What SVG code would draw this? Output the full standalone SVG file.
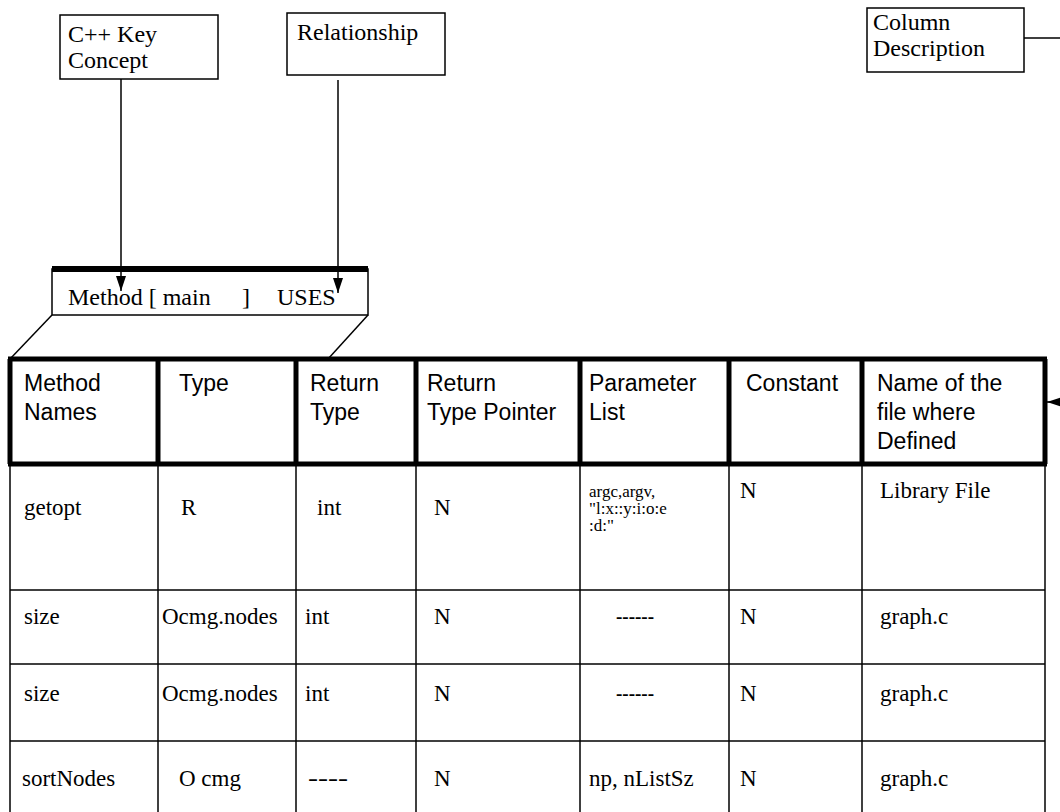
<svg xmlns="http://www.w3.org/2000/svg" width="1060" height="812" viewBox="0 0 1060 812">
<style>
.lbl{font-family:"Liberation Serif","Times New Roman",serif;font-size:24px;fill:#000}
.hdr{font-family:"Liberation Sans",Arial,sans-serif;font-size:23px;fill:#000}
.cell{font-family:"Liberation Serif","Times New Roman",serif;font-size:23px;fill:#000}
.sm{font-size:17px}
.box{fill:#fff;stroke:#000;stroke-width:1.5}
.thin{stroke:#000;stroke-width:1.5;fill:none}
.thick{stroke:#000;stroke-width:5;fill:none}
.bar{stroke:#000;stroke-width:6;fill:none}
</style>
<defs>
<marker id="ah" markerUnits="userSpaceOnUse" markerWidth="15" markerHeight="10" viewBox="0 0 15 10" refX="15" refY="5" orient="auto">
<path d="M0,0 L15,5 L0,10 z" fill="#000"/>
</marker>
</defs>
<rect width="1060" height="812" fill="#fff"/>

<g id="node-cpp-key-concept">
<rect class="box" x="60" y="15" width="158" height="64"/>
<text class="lbl" x="68" y="42">C++ Key</text>
<text class="lbl" x="68" y="68">Concept</text>
</g>

<g id="node-relationship">
<rect class="box" x="287" y="13" width="158" height="62"/>
<text class="lbl" x="297" y="40">Relationship</text>
</g>

<g id="node-column-description">
<rect class="box" x="867" y="8" width="157" height="64"/>
<text class="lbl" x="873" y="30">Column</text>
<text class="lbl" x="873" y="56">Description</text>
</g>

<g id="node-method-bar">
<rect class="box" x="52" y="269" width="316" height="46"/>
<line class="bar" x1="52" y1="269" x2="368" y2="269"/>
<text class="lbl"><tspan x="68" y="305">Method [ main</tspan><tspan x="242" y="305">]</tspan><tspan x="277" y="305">USES</tspan></text>
</g>

<g id="node-table">
<g id="table-lines">
<line class="thin" x1="10" y1="464" x2="10" y2="812"/>
<line class="thin" x1="158" y1="464" x2="158" y2="812"/>
<line class="thin" x1="296" y1="464" x2="296" y2="812"/>
<line class="thin" x1="416" y1="464" x2="416" y2="812"/>
<line class="thin" x1="580" y1="464" x2="580" y2="812"/>
<line class="thin" x1="729" y1="464" x2="729" y2="812"/>
<line class="thin" x1="862" y1="464" x2="862" y2="812"/>
<line class="thin" x1="1045" y1="464" x2="1045" y2="812"/>
<line class="thin" x1="10" y1="590" x2="1045" y2="590"/>
<line class="thin" x1="10" y1="664" x2="1045" y2="664"/>
<line class="thin" x1="10" y1="741" x2="1045" y2="741"/>
<line class="thick" x1="8" y1="359" x2="1047" y2="359"/>
<line class="thick" x1="8" y1="464" x2="1047" y2="464"/>
<line class="thick" x1="10" y1="359" x2="10" y2="464"/>
<line class="thick" x1="158" y1="359" x2="158" y2="464"/>
<line class="thick" x1="296" y1="359" x2="296" y2="464"/>
<line class="thick" x1="416" y1="359" x2="416" y2="464"/>
<line class="thick" x1="580" y1="359" x2="580" y2="464"/>
<line class="thick" x1="729" y1="359" x2="729" y2="464"/>
<line class="thick" x1="862" y1="359" x2="862" y2="464"/>
<line class="thick" x1="1045" y1="359" x2="1045" y2="464"/>
</g>
<g id="table-header">
<text class="hdr" x="24" y="391">Method</text>
<text class="hdr" x="24" y="420">Names</text>
<text class="hdr" x="179" y="391">Type</text>
<text class="hdr" x="310" y="391">Return</text>
<text class="hdr" x="310" y="420">Type</text>
<text class="hdr" x="427" y="391">Return</text>
<text class="hdr" x="427" y="420">Type Pointer</text>
<text class="hdr" x="589" y="391">Parameter</text>
<text class="hdr" x="589" y="420">List</text>
<text class="hdr" x="746" y="391">Constant</text>
<text class="hdr" x="877" y="391">Name of the</text>
<text class="hdr" x="877" y="420">file where</text>
<text class="hdr" x="877" y="449">Defined</text>
</g>
<g id="row-getopt">
<text class="cell" x="24" y="515">getopt</text>
<text class="cell" x="181" y="515">R</text>
<text class="cell" x="317" y="515">int</text>
<text class="cell" x="434" y="515">N</text>
<text class="cell sm" x="589" y="497">argc,argv,</text>
<text class="cell sm" x="589" y="514">"l:x::y:i:o:e</text>
<text class="cell sm" x="589" y="531">:d:"</text>
<text class="cell" x="740" y="498">N</text>
<text class="cell" x="880" y="498">Library File</text>
</g>
<g id="row-size-1">
<text class="cell" x="24" y="624">size</text>
<text class="cell" x="162" y="624">Ocmg.nodes</text>
<text class="cell" x="305" y="624">int</text>
<text class="cell" x="434" y="624">N</text>
<text class="cell" x="616" y="624" textLength="38" lengthAdjust="spacingAndGlyphs">------</text>
<text class="cell" x="740" y="624">N</text>
<text class="cell" x="880" y="624">graph.c</text>
</g>
<g id="row-size-2">
<text class="cell" x="24" y="701">size</text>
<text class="cell" x="162" y="701">Ocmg.nodes</text>
<text class="cell" x="305" y="701">int</text>
<text class="cell" x="434" y="701">N</text>
<text class="cell" x="616" y="701" textLength="38" lengthAdjust="spacingAndGlyphs">------</text>
<text class="cell" x="740" y="701">N</text>
<text class="cell" x="880" y="701">graph.c</text>
</g>
<g id="row-sortnodes">
<text class="cell" x="22" y="786">sortNodes</text>
<text class="cell" x="179" y="786">O cmg</text>
<text class="cell" x="308" y="786" textLength="40" lengthAdjust="spacingAndGlyphs">----</text>
<text class="cell" x="434" y="786">N</text>
<text class="cell" x="589" y="786">np, nListSz</text>
<text class="cell" x="740" y="786">N</text>
<text class="cell" x="880" y="786">graph.c</text>
</g>
</g>

<g id="connectors">
<line class="thin" x1="121" y1="79" x2="121" y2="291" marker-end="url(#ah)"/>
<line class="thin" x1="338" y1="80" x2="338" y2="293" marker-end="url(#ah)"/>
<path class="thin" d="M1024,38 H1075 V402 H1047" marker-end="url(#ah)"/>
<line class="thin" x1="52" y1="315" x2="10" y2="359"/>
<line class="thin" x1="368" y1="315" x2="328" y2="359"/>
</g>
</svg>
